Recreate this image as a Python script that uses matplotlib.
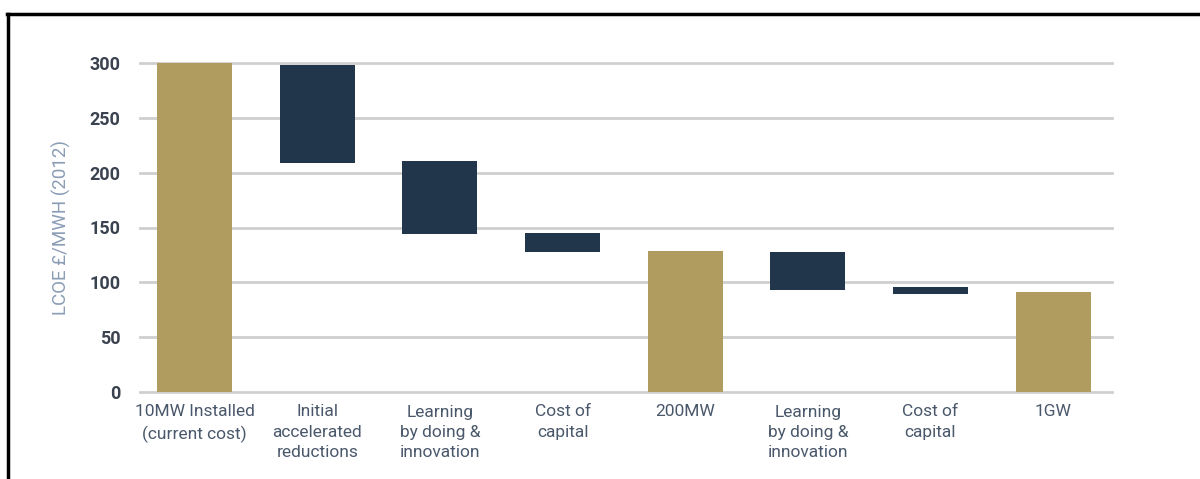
import matplotlib
matplotlib.use("Agg")
import matplotlib.pyplot as plt
from matplotlib.lines import Line2D

categories = ["10MW Installed\n(current cost)", "Initial\naccelerated\nreductions",
              "Learning\nby doing &\ninnovation", "Cost of\ncapital", "200MW",
              "Learning\nby doing &\ninnovation", "Cost of\ncapital", "1GW"]
bar_top = [300, 298, 211, 145, 129, 128, 96, 91]
bar_bottom = [0, 209, 144, 128, 0, 93, 89, 0]
is_total = [True, False, False, False, True, False, False, True]
y_ticks = [0, 50, 100, 150, 200, 250, 300]
y_label = "LCOE £/MWH (2012)"

GOLD = "#b09c5f"
NAVY = "#22364b"

plt.rcParams['font.family'] = ['Roboto', 'DejaVu Sans']

fig = plt.figure(figsize=(12, 4.79), dpi=100)
ax = fig.add_axes([140/1200, 87/479, (1112-140)/1200, (392-63)/479])

x = list(range(len(categories)))
heights = [t - b for t, b in zip(bar_top, bar_bottom)]
colors = [GOLD if t else NAVY for t in is_total]
ax.bar(x, heights, bottom=bar_bottom, width=0.61, color=colors, zorder=3)

ax.set_xlim(-0.445, 7.48)
ax.set_ylim(0, 300)
ax.set_yticks(y_ticks)
ax.set_yticklabels([str(v) for v in y_ticks], fontsize=13, fontweight='bold', color="#3a4250")
ax.set_xticks(x)
ax.set_xticklabels(categories, fontsize=12.5, color="#4a586b", linespacing=1.45)
ax.tick_params(axis='y', length=0, pad=14)
ax.tick_params(axis='x', length=0, pad=9)
ax.grid(axis='y', color="#cfcfcf", linewidth=2, zorder=0)
for s in ax.spines.values():
    s.set_visible(False)
for gl in ax.get_ygridlines():
    gl.set_clip_on(False)

ax.set_ylabel(y_label, fontsize=13.5, color="#8a9db5", labelpad=13)

# outer frame lines (top and left)
fig.add_artist(Line2D([7/1200, 1], [1 - 14/479, 1 - 14/479], color="black", linewidth=2.5, transform=fig.transFigure))
fig.add_artist(Line2D([8/1200, 8/1200], [0, 1 - 14/479], color="black", linewidth=2.5, transform=fig.transFigure))

fig.savefig("out.png", dpi=100, facecolor="white")
